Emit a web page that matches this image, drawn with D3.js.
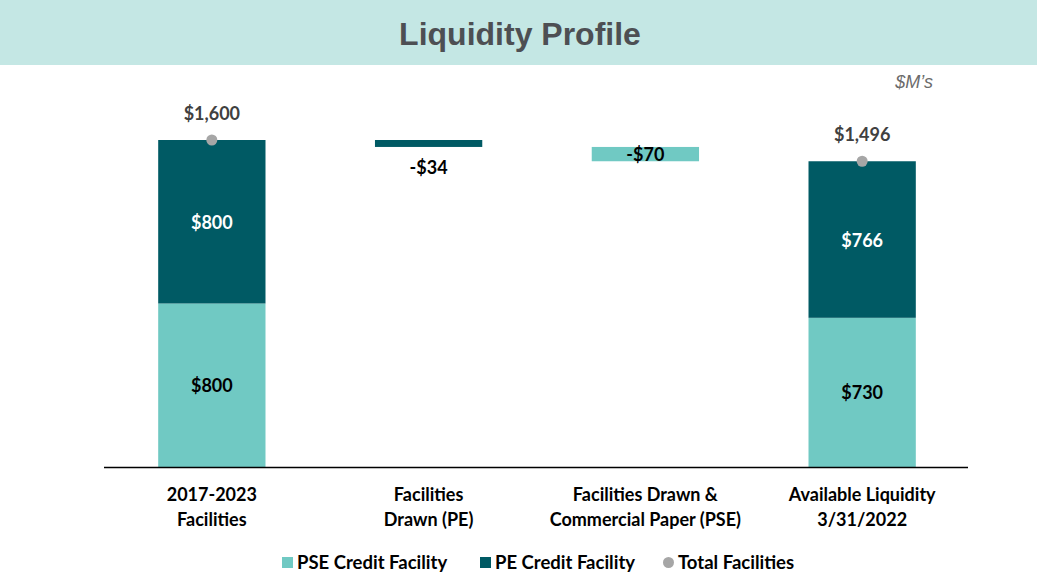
<!DOCTYPE html>
<html><head><meta charset="utf-8">
<script src="https://cdn.jsdelivr.net/npm/d3@7"></script>
<style>body{margin:0;background:#fff}svg{display:block}</style>
</head><body>
<svg id="c" width="1037" height="572"></svg>
<script>
const categories = [["2017-2023","Facilities"],["Facilities","Drawn (PE)"],["Facilities Drawn &","Commercial Paper (PSE)"],["Available Liquidity","3/31/2022"]];
const pseValues = [800, null, -70, 730];
const peValues = [800, -34, null, 766];
const totalValues = [1600, null, null, 1496];
const seriesNames = ["PSE Credit Facility","PE Credit Facility","Total Facilities"];

const colPSE = "#70c9c3", colPE = "#005a64", colTot = "#a6a6a6";
const font = "Lato, 'Open Sans', sans-serif";
const fs = 18;
const svg = d3.select("#c");
const W = 1037, H = 572;

svg.append("rect").attr("x",0).attr("y",0).attr("width",W).attr("height",65).attr("fill","#c4e7e4");
svg.append("text").attr("x",520).attr("y",45).attr("text-anchor","middle")
  .attr("font-family","'Liberation Sans', Arial, sans-serif").attr("font-weight","bold")
  .attr("font-size",32).attr("fill","#4d4f53").text("Liquidity Profile");
svg.append("text").attr("x",933).attr("y",88).attr("text-anchor","end")
  .attr("font-family","'Liberation Sans', Arial, sans-serif").attr("font-style","italic")
  .attr("font-size",18).attr("fill","#6b6b6b").text("$M\u2019s");

const x = d3.scaleBand().domain(d3.range(categories.length)).range([104, 970]).paddingInner(0.505).paddingOuter(0.25);
const y = d3.scaleLinear().domain([0, 1600]).range([467, 140]);

let running = 0;
const segs = [];
categories.forEach((c,i) => {
  if (totalValues[i] != null) {
    segs.push({i, y0:0, y1:pseValues[i], color:colPSE, label:"$"+pseValues[i], lc:"#000"});
    segs.push({i, y0:pseValues[i], y1:pseValues[i]+peValues[i], color:colPE, label:"$"+peValues[i], lc:"#fff"});
    running = totalValues[i];
  } else {
    const v = pseValues[i] != null ? pseValues[i] : peValues[i];
    const color = pseValues[i] != null ? colPSE : colPE;
    segs.push({i, y0:running+v, y1:running, color, label:"-$"+Math.abs(v), lc:"#000", float:true});
    running += v;
  }
});

const g = svg.append("g");
g.selectAll("rect.seg").data(segs).join("rect").attr("class","seg")
  .attr("x", d => x(d.i)).attr("width", x.bandwidth())
  .attr("y", d => y(d.y1)).attr("height", d => y(d.y0) - y(d.y1))
  .attr("fill", d => d.color);

g.selectAll("text.seg").data(segs).join("text").attr("class","seg")
  .attr("x", d => x(d.i) + x.bandwidth()/2)
  .attr("y", d => {
    if (d.float) {
      const h = y(d.y0) - y(d.y1);
      return h > 12 ? (y(d.y0)+y(d.y1))/2 + 7 : y(d.y0) + 27;
    }
    return (y(d.y0)+y(d.y1))/2 + 7;
  })
  .attr("text-anchor","middle").attr("font-family",font).attr("font-weight","bold")
  .attr("font-size",fs).attr("fill", d => d.lc).text(d => d.label);

const tots = totalValues.map((v,i)=>({v,i})).filter(d=>d.v!=null);
g.selectAll("circle.tot").data(tots).join("circle")
  .attr("cx", d => x(d.i)+x.bandwidth()/2).attr("cy", d => y(d.v)).attr("r",5.5).attr("fill",colTot);
g.selectAll("text.tot").data(tots).join("text")
  .attr("x", d => x(d.i)+x.bandwidth()/2).attr("y", d => y(d.v) - 20)
  .attr("text-anchor","middle").attr("font-family",font).attr("font-weight","bold")
  .attr("font-size",fs).attr("fill","#404040").text(d => "$" + d3.format(",")(d.v));

const ax = svg.append("g").attr("transform","translate(0,467)")
  .call(d3.axisBottom(x).tickSize(0).tickFormat(""));
ax.select(".domain").attr("stroke","#000").attr("stroke-width",1.3).attr("d","M104,0.5H968");
categories.forEach((c,i) => {
  c.forEach((line,k) => {
    svg.append("text").attr("x", x(i)+x.bandwidth()/2).attr("y", 501 + k*25)
      .attr("text-anchor","middle").attr("font-family",font).attr("font-weight","bold")
      .attr("font-size",fs).attr("fill","#000").text(line);
  });
});

const leg = svg.append("g").attr("font-family",font).attr("font-weight","bold").attr("font-size",18.5);
const legItems = [{n:seriesNames[0], c:colPSE, t:"sq", x:282},{n:seriesNames[1], c:colPE, t:"sq", x:480},{n:seriesNames[2], c:colTot, t:"ci", x:663}];
legItems.forEach(d => {
  if (d.t === "sq") leg.append("rect").attr("x",d.x).attr("y",557).attr("width",11).attr("height",11).attr("fill",d.c);
  else leg.append("circle").attr("cx",d.x+5.5).attr("cy",562.5).attr("r",5.5).attr("fill",d.c);
  leg.append("text").attr("x",d.x+15).attr("y",569).attr("fill","#000").text(d.n);
});
</script>
</body></html>
